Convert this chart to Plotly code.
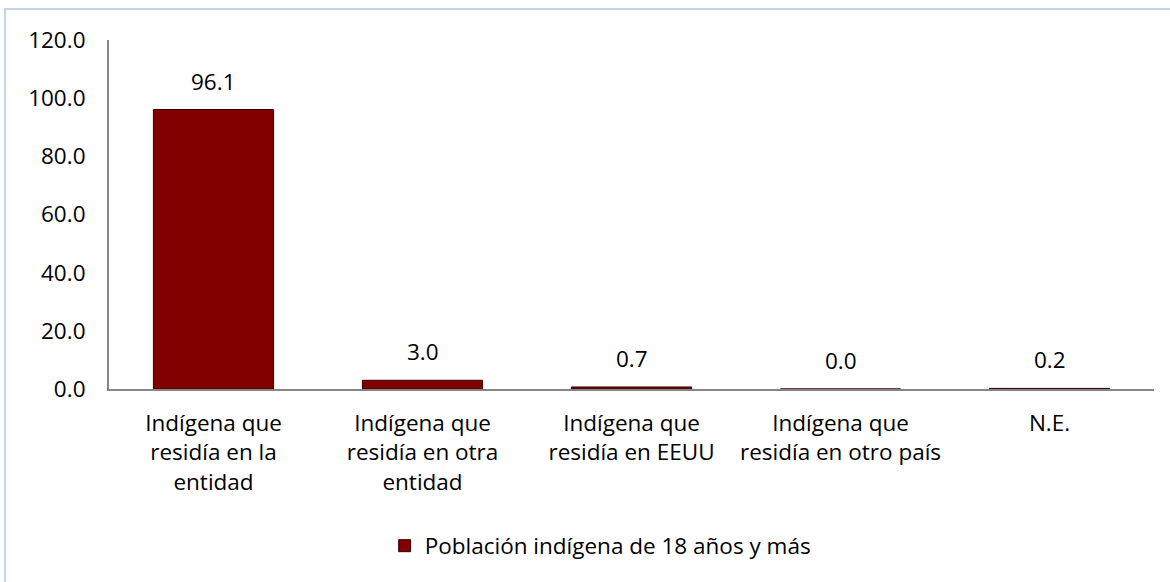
import plotly.graph_objects as go

categories = [
    "Indígena que<br>residía en la<br>entidad",
    "Indígena que<br>residía en otra<br>entidad",
    "Indígena que<br>residía en EEUU",
    "Indígena que<br>residía en otro país",
    "N.E.",
]
values = [96.1, 3.0, 0.7, 0.0, 0.2]
series_name = "Población indígena de 18 años y más"
y_ticks = [0, 20, 40, 60, 80, 100, 120]
y_tick_labels = ["0.0", "20.0", "40.0", "60.0", "80.0", "100.0", "120.0"]

FONT = "Open Sans, Lato, sans-serif"
FS = 22.5
W, H = 1170, 582
ml, mr, mt, mb = 109, 16, 40, 193

fig = go.Figure()
fig.add_trace(go.Bar(
    x=categories, y=values, name=series_name,
    marker=dict(color="#800000", line=dict(color="#3a0000", width=1)),
    width=0.575, showlegend=True,
))

for c, v in zip(categories, values):
    fig.add_annotation(x=c, y=v, text=f"{v:.1f}", showarrow=False,
                       yanchor="bottom", yshift=11,
                       font=dict(family=FONT, size=FS, color="#000000"))

pw = W - ml - mr
ph = H - mt - mb
fig.add_shape(type="rect", xref="paper", yref="paper",
              x0=(5 - ml) / pw, x1=(W + 10 - ml) / pw,
              y0=-(H + 10 - mt - ph) / ph, y1=(ph + mt - 9) / ph,
              line=dict(color="#c6d4e6", width=2), fillcolor="rgba(0,0,0,0)",
              layer="below")

fig.update_layout(
    width=W, height=H,
    margin=dict(l=ml, r=mr, t=mt, b=mb),
    paper_bgcolor="white", plot_bgcolor="white",
    font=dict(family=FONT, size=FS, color="#000000"),
    bargap=0.425,
    legend=dict(orientation="h", x=0.47, xanchor="center", y=-0.45, yanchor="middle",
                font=dict(family=FONT, size=FS), itemwidth=30),
    xaxis=dict(showline=True, linecolor="#868686", linewidth=2, ticks="",
               ticklabelstandoff=13,
               tickfont=dict(family=FONT, size=FS), fixedrange=True),
    yaxis=dict(range=[0, 120], tickvals=y_ticks, ticktext=y_tick_labels,
               showline=True, linecolor="#868686", linewidth=2, showgrid=False,
               zeroline=False, ticks="", ticklabelstandoff=17,
               tickfont=dict(family=FONT, size=FS)),
)

fig.write_html("out.html", config={"displayModeBar": False},
               post_script="document.body.style.margin='0px';")
